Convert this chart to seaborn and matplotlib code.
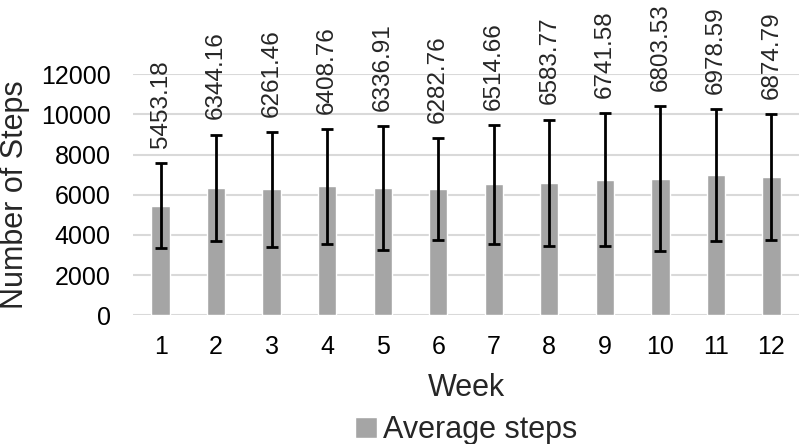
import matplotlib
matplotlib.use('Agg')
import matplotlib.pyplot as plt
import seaborn as sns
import pandas as pd

# Weekly average steps with standard deviation
weeks = [str(w) for w in range(1, 13)]
avg_steps = [5453.18, 6344.16, 6261.46, 6408.76, 6336.91, 6282.76,
             6514.66, 6583.77, 6741.58, 6803.53, 6978.59, 6874.79]
sd_steps = [2100, 2650, 2850, 2870, 3080, 2520,
            2950, 3150, 3300, 3600, 3270, 3150]

df = pd.DataFrame({'Week': weeks, 'Steps': avg_steps, 'SD': sd_steps})

sns.set_theme(style='white')
plt.rcParams['font.family'] = ['Liberation Sans', 'DejaVu Sans']

fig = plt.figure(figsize=(8, 4.44), dpi=100)
ax = fig.add_axes([0.166, 0.29, 0.833, 0.543])

sns.barplot(data=df, x='Week', y='Steps', color='#A5A5A5', width=0.33,
            saturation=1, label='Average steps', ax=ax, zorder=2)

ax.errorbar(range(len(weeks)), df['Steps'], yerr=df['SD'], fmt='none',
            ecolor='black', elinewidth=2, capsize=4, capthick=2, zorder=3)

# value labels above each error bar
for i, (m, s) in enumerate(zip(avg_steps, sd_steps)):
    ax.annotate(f'{m:.2f}', (i, m + s), xytext=(0, 11), textcoords='offset points',
                rotation=90, ha='center', va='bottom', fontsize=17.5,
                annotation_clip=False)

ax.set_ylim(0, 12000)
ax.set_xlim(-0.5, 11.5)
ax.set_yticks(range(0, 12001, 2000))
ax.yaxis.grid(True, color='#D9D9D9', linewidth=1.5, zorder=0)
ax.set_axisbelow(True)
for sp in ax.spines.values():
    sp.set_visible(False)
ax.tick_params(axis='both', labelsize=18, length=0, colors='black')
ax.tick_params(axis='x', pad=14)
ax.tick_params(axis='y', pad=16)
ax.set_xlabel('Week', fontsize=22, labelpad=10)
ax.set_ylabel('Number of Steps', fontsize=22, labelpad=8)

ax.legend(loc='upper center', bbox_to_anchor=(0.5, -0.30), frameon=False,
          fontsize=22, handlelength=0.7, handleheight=0.7, handletextpad=0.2)

fig.savefig('out.png', dpi=100)
